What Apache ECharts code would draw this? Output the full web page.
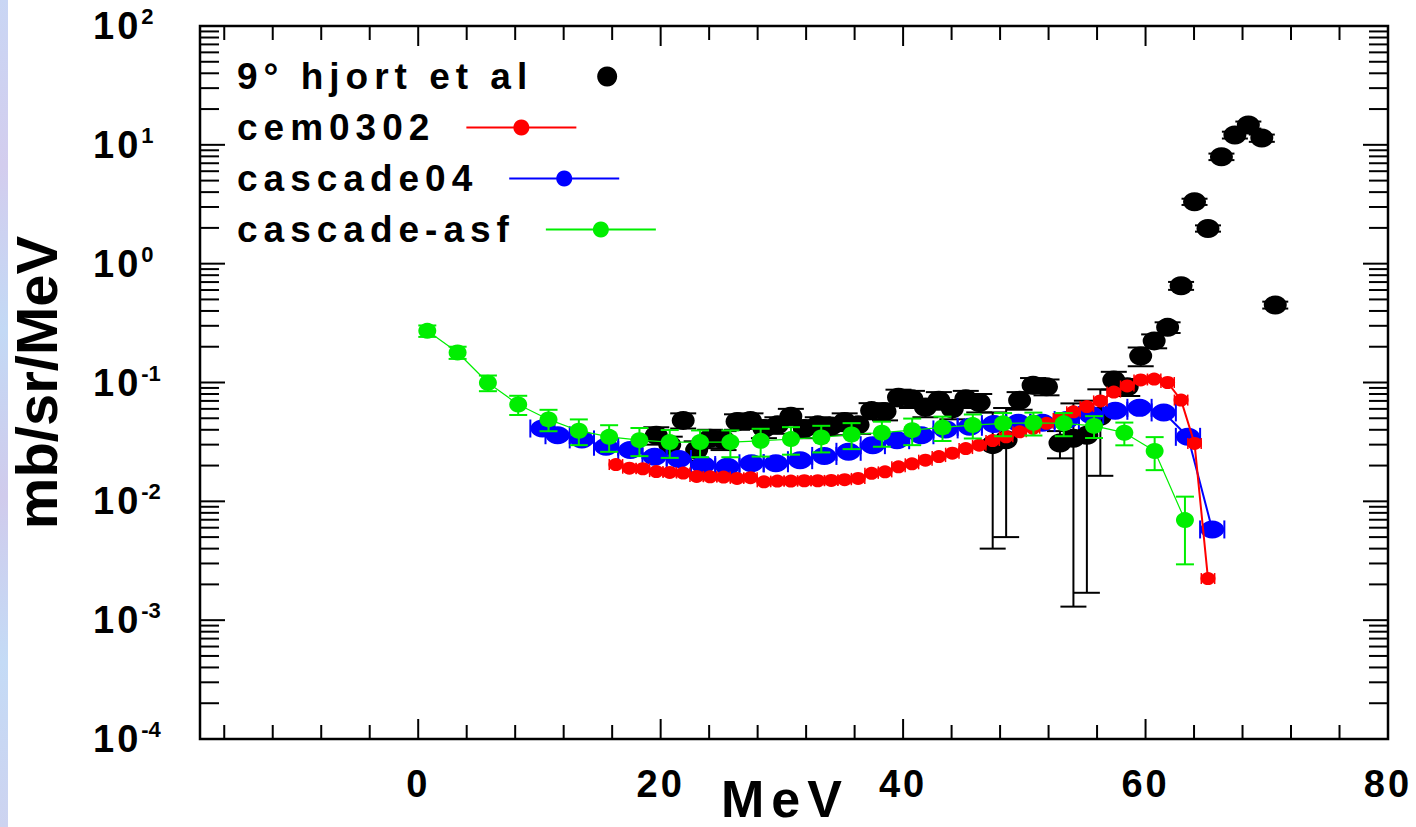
<!DOCTYPE html>
<html>
<head>
<meta charset="utf-8">
<script src="https://cdn.jsdelivr.net/npm/echarts@6/dist/echarts.min.js"></script>
<style>
html,body{margin:0;padding:0;background:#fff;}
#chart{width:1416px;height:827px;}
#chart text[style*="37px"]{letter-spacing:6px;}
#chart text[style*="38px"]{letter-spacing:3px;}
#chart text[style*="52px"]{letter-spacing:7px;}
</style>
</head>
<body>
<div id="chart"></div>
<script>
// ---------------- data ----------------
const seriesNames = ['9° hjort et al', 'cem0302', 'cascade04', 'cascade-asf'];

// 9° hjort et al (experimental)
const hjortE = [19.64,20.75,21.86,22.97,24.08,25.19,26.30,27.41,28.52,29.63,30.74,31.85,32.96,34.07,35.18,36.29,37.40,38.51,39.62,40.73,41.84,42.95,44.06,45.17,46.28,47.39,48.50,49.61,50.72,51.83,52.94,54.05,55.16,56.27,57.38,58.49,59.60,60.71,61.82,62.93,64.04,65.15,66.26,67.37,68.48,69.59,70.70];
const hjortVal = [0.036,0.030,0.048,0.027,0.034,0.033,0.047,0.048,0.041,0.044,0.052,0.041,0.044,0.043,0.047,0.044,0.058,0.057,0.075,0.073,0.062,0.071,0.060,0.073,0.068,0.030,0.033,0.071,0.095,0.092,0.031,0.034,0.036,0.052,0.105,0.092,0.167,0.224,0.291,0.652,3.32,1.98,7.94,12.1,14.7,11.4,0.449];
const hjortErr = [0.006,0.005,0.007,0.005,0.006,0.006,0.007,0.007,0.007,0.007,0.008,0.007,0.007,0.007,0.008,0.007,0.009,0.009,0.012,0.012,0.011,0.012,0.011,0.012,0.012,0.026,0.028,0.012,0.014,0.014,0.008,0.0327,0.0343,0.0356,0.018,0.015,0.03,0.03,0.03,0.05,0.2,0.12,0.5,0.8,1.0,0.8,0.03];
const hjortHalfBin = 0.55;

// cem0302
const cemE = [16.31,17.42,18.53,19.64,20.75,21.86,22.97,24.08,25.19,26.30,27.41,28.52,29.63,30.74,31.85,32.96,34.07,35.18,36.29,37.40,38.51,39.62,40.73,41.84,42.95,44.06,45.17,46.28,47.39,48.50,49.61,50.72,51.83,52.94,54.05,55.16,56.27,57.38,58.49,59.60,60.71,61.82,62.93,64.04,65.15];
const cemVal = [0.0204,0.0190,0.0188,0.0178,0.0175,0.0173,0.0162,0.0161,0.0160,0.0156,0.0158,0.0146,0.0148,0.0148,0.0149,0.0149,0.0150,0.0152,0.0156,0.0172,0.0177,0.0195,0.0207,0.0222,0.0238,0.0254,0.0278,0.0297,0.0325,0.0349,0.0385,0.0412,0.0453,0.0498,0.0566,0.0627,0.0700,0.0830,0.0935,0.105,0.107,0.100,0.0711,0.0307,0.00224];
const cemHalfBin = 0.55;

// cascade04
const casE = [10.25,11.5,13.5,15.5,17.5,19.5,21.5,23.5,25.5,27.5,29.5,31.5,33.5,35.5,37.5,39.5,41.5,43.5,45.5,47.5,49.5,51.5,53.5,55.5,57.5,59.5,61.5,63.5,65.5];
const casVal = [0.041,0.036,0.0332,0.0288,0.027,0.0237,0.0227,0.0202,0.0195,0.0209,0.0209,0.0222,0.0241,0.0261,0.0297,0.0327,0.036,0.0403,0.0424,0.0447,0.0458,0.0458,0.0483,0.0532,0.0578,0.0612,0.056,0.0349,0.0058];
const casErr = [0.0033,0.0029,0.0027,0.0023,0.0022,0.0019,0.0018,0.0016,0.0016,0.0017,0.0017,0.0018,0.0019,0.0021,0.0024,0.0026,0.0029,0.0032,0.0034,0.0036,0.0037,0.0037,0.0039,0.0043,0.0046,0.0049,0.0045,0.0028,0.0005];
const casHalfBin = 1.0;

// cascade-asf
const asfE = [0.75,3.25,5.75,8.25,10.75,13.25,15.75,18.25,20.75,23.25,25.75,28.25,30.75,33.25,35.75,38.25,40.75,43.25,45.75,48.25,50.75,53.25,55.75,58.25,60.75,63.25];
const asfVal = [0.272,0.179,0.0995,0.0653,0.0489,0.0393,0.0349,0.0327,0.0315,0.0315,0.0315,0.0323,0.0334,0.0345,0.0365,0.0378,0.0397,0.0419,0.0438,0.0453,0.0458,0.0453,0.0431,0.0378,0.0265,0.00695];
const asfErr = [0.030,0.021,0.015,0.012,0.010,0.0096,0.0088,0.0087,0.0083,0.008,0.008,0.0085,0.0087,0.0087,0.009,0.009,0.010,0.0097,0.010,0.010,0.010,0.010,0.009,0.0082,0.0082,0.004];

// axes
const xMin = -18, xMax = 80;
const yMin = 1e-4, yMax = 1e2;
const xMajorTicks = [0,20,40,60,80];
const xMinorTicks = [-16,-12,-8,-4,4,8,12,16,24,28,32,36,44,48,52,56,64,68,72,76];
const xTickLabels = ['0','20','40','60','80'];
const yMajorTicks = [1e-4,1e-3,1e-2,1e-1,1,10,100];
const yTickExps = ['-4','-3','-2','-1','0','1','2'];
const yMinorTicks = [2e-4,3e-4,4e-4,5e-4,6e-4,7e-4,8e-4,9e-4,
  2e-3,3e-3,4e-3,5e-3,6e-3,7e-3,8e-3,9e-3,
  2e-2,3e-2,4e-2,5e-2,6e-2,7e-2,8e-2,9e-2,
  0.2,0.3,0.4,0.5,0.6,0.7,0.8,0.9,
  2,3,4,5,6,7,8,9,
  20,30,40,50,60,70,80,90];

// ---------------- text measurement incl. letter spacing ----------------
const LS = {'37': 6, '38': 3, '52': 7};
const mctx = document.createElement('canvas').getContext('2d');
if (echarts.setPlatformAPI) {
  echarts.setPlatformAPI({
    measureText: function (text, font) {
      mctx.font = font || '12px sans-serif';
      const w = mctx.measureText(text).width;
      const m = /(\d+)px/.exec(font || '');
      const ls = m ? (LS[m[1]] || 0) : 0;
      return { width: w + ls * String(text).length };
    }
  });
}

const F = "'Liberation Sans', Arial, Helvetica, sans-serif";

function errRender(color, capW, capH, lw) {
  return function (params, api) {
    const x = api.value(0);
    const yl = api.value(2), yh = api.value(3);
    const xl = api.value(4), xh = api.value(5);
    const y = api.value(1);
    const st = { stroke: color, lineWidth: lw };
    const ch = [];
    if (yh > yl) {
      const a = api.coord([x, yl]), b = api.coord([x, yh]);
      ch.push({ type: 'line', shape: { x1: a[0], y1: a[1], x2: b[0], y2: b[1] }, style: st });
      ch.push({ type: 'line', shape: { x1: a[0] - capW / 2, y1: a[1], x2: a[0] + capW / 2, y2: a[1] }, style: st });
      ch.push({ type: 'line', shape: { x1: b[0] - capW / 2, y1: b[1], x2: b[0] + capW / 2, y2: b[1] }, style: st });
    }
    if (xh > xl) {
      const a = api.coord([xl, y]), b = api.coord([xh, y]);
      ch.push({ type: 'line', shape: { x1: a[0], y1: a[1], x2: b[0], y2: b[1] }, style: st });
      ch.push({ type: 'line', shape: { x1: a[0], y1: a[1] - capH / 2, x2: a[0], y2: a[1] + capH / 2 }, style: st });
      ch.push({ type: 'line', shape: { x1: b[0], y1: b[1] - capH / 2, x2: b[0], y2: b[1] + capH / 2 }, style: st });
    }
    return { type: 'group', children: ch };
  };
}

function xTickRender(len) {
  return function (params, api) {
    const v = api.value(0);
    const b = api.coord([v, yMin]), t = api.coord([v, yMax]);
    const st = { stroke: '#000', lineWidth: 2 };
    return { type: 'group', children: [
      { type: 'line', shape: { x1: b[0], y1: b[1], x2: b[0], y2: b[1] - len }, style: st },
      { type: 'line', shape: { x1: t[0], y1: t[1], x2: t[0], y2: t[1] + len }, style: st }
    ] };
  };
}
function yTickRender(len) {
  return function (params, api) {
    const v = api.value(1);
    const l = api.coord([xMin, v]), r = api.coord([xMax, v]);
    const st = { stroke: '#000', lineWidth: 2 };
    return { type: 'group', children: [
      { type: 'line', shape: { x1: l[0], y1: l[1], x2: l[0] + len, y2: l[1] }, style: st },
      { type: 'line', shape: { x1: r[0], y1: r[1], x2: r[0] - len, y2: r[1] }, style: st }
    ] };
  };
}

const chart = echarts.init(document.getElementById('chart'), null, { renderer: 'svg', width: 1416, height: 827 });

const legendTops = [55, 106, 157, 208];
const legends = seriesNames.map(function (n, i) {
  return {
    data: [n], left: 237, top: legendTops[i], padding: 0, orient: 'horizontal', align: 'right',
    itemWidth: 110, itemHeight: 20, selectedMode: false,
    textStyle: { fontFamily: F, fontWeight: 'bold', fontSize: 37, color: '#000', padding: [0, i === 0 ? 14 : 26, 0, 0] }
  };
});

const option = {
  animation: false,
  backgroundColor: '#fff',
  graphic: [{
    type: 'rect', left: 0, top: 0, silent: true,
    shape: { width: 8, height: 827 },
    style: { fill: { type: 'linear', x: 0, y: 0, x2: 0, y2: 1, colorStops: [
      { offset: 0, color: '#c9d6f4' }, { offset: 0.2, color: '#d3cdee' }, { offset: 0.4, color: '#c3d9f5' },
      { offset: 0.6, color: '#d0cbec' }, { offset: 0.8, color: '#c4dbf6' }, { offset: 1, color: '#cdd3f0' }] } }
  }],
  grid: { left: 200, right: 28, top: 26, bottom: 88, show: true, borderColor: '#000', borderWidth: 2.5,
    backgroundColor: 'transparent', containLabel: false, outerBoundsMode: 'none' },
  legend: legends,
  xAxis: {
    type: 'value', min: xMin, max: xMax, interval: 2,
    axisLine: { show: false }, axisTick: { show: false }, splitLine: { show: false },
    axisLabel: {
      margin: 24, fontFamily: F, fontWeight: 'bold', fontSize: 38, color: '#000',
      formatter: function (v) {
        const i = xMajorTicks.indexOf(Math.round(v));
        return (i >= 0 && Math.abs(v - Math.round(v)) < 1e-6) ? xTickLabels[i] : '';
      }
    },
    name: 'MeV', nameLocation: 'middle', nameGap: 30, nameMoveOverlap: false,
    nameTextStyle: { fontFamily: F, fontWeight: 'bold', fontSize: 52, color: '#000', padding: [0, 18, 0, 0] }
  },
  yAxis: {
    type: 'log', logBase: 10, min: yMin, max: yMax, splitNumber: 6,
    axisLine: { show: false }, axisTick: { show: false }, splitLine: { show: false }, minorTick: { show: false },
    axisLabel: {
      margin: 107, align: 'left',
      formatter: function (v) {
        const lv = Math.log10(v);
        let idx = -1;
        for (let i = 0; i < yMajorTicks.length; i++) {
          if (Math.abs(Math.log10(yMajorTicks[i]) - lv) < 1e-6) idx = i;
        }
        return idx >= 0 ? '{b|10}{s|' + yTickExps[idx] + '}' : '';
      },
      rich: {
        b: { fontFamily: F, fontWeight: 'bold', fontSize: 38, color: '#000' },
        s: { fontFamily: F, fontWeight: 'bold', fontSize: 22, color: '#000', verticalAlign: 'top' }
      }
    },
    name: 'mb/sr/MeV', nameLocation: 'middle', nameGap: 135, nameMoveOverlap: false,
    nameTextStyle: { fontFamily: F, fontWeight: 'bold', fontSize: 58, color: '#000' }
  },
  series: [
    { type: 'custom', name: 'hjortErr', silent: true, z: 2, renderItem: errRender('#000', 26, 12, 2),
      data: hjortE.map(function (x, i) { return [x, hjortVal[i], hjortVal[i] - hjortErr[i], hjortVal[i] + hjortErr[i], x - hjortHalfBin, x + hjortHalfBin]; }) },
    { type: 'scatter', name: seriesNames[0], z: 3, symbol: 'circle', symbolSize: [23, 19],
      itemStyle: { color: '#000', opacity: 1 }, data: hjortE.map(function (x, i) { return [x, hjortVal[i]]; }) },

    { type: 'custom', name: 'casErr', silent: true, z: 4, renderItem: errRender('#0000ff', 18, 18, 2),
      data: casE.map(function (x, i) { return [x, casVal[i], casVal[i] - casErr[i], casVal[i] + casErr[i], x - casHalfBin, x + casHalfBin]; }) },
    { type: 'line', name: seriesNames[2], z: 5, symbol: 'circle', symbolSize: [24, 18],
      itemStyle: { color: '#0000ff', opacity: 1 }, lineStyle: { color: '#0000ff', width: 2 },
      data: casE.map(function (x, i) { return [x, casVal[i]]; }) },

    { type: 'custom', name: 'cemErr', silent: true, z: 6, renderItem: errRender('#ff0000', 10, 11, 1.5),
      data: cemE.map(function (x, i) { return [x, cemVal[i], cemVal[i], cemVal[i], x - cemHalfBin, x + cemHalfBin]; }) },
    { type: 'line', name: seriesNames[1], z: 7, symbol: 'circle', symbolSize: [15, 13],
      itemStyle: { color: '#ff0000', opacity: 1 }, lineStyle: { color: '#ff0000', width: 2 },
      data: cemE.map(function (x, i) { return [x, cemVal[i]]; }) },

    { type: 'custom', name: 'asfErr', silent: true, z: 8, renderItem: errRender('#00ee00', 18, 0, 2),
      data: asfE.map(function (x, i) { return [x, asfVal[i], asfVal[i] - asfErr[i], asfVal[i] + asfErr[i], x, x]; }) },
    { type: 'line', name: seriesNames[3], z: 9, symbol: 'circle', symbolSize: [18, 16],
      itemStyle: { color: '#00ee00', opacity: 1 }, lineStyle: { color: '#00ee00', width: 1.2 },
      data: asfE.map(function (x, i) { return [x, asfVal[i]]; }) },

    { type: 'custom', name: 'xMajor', silent: true, z: 20, clip: false, renderItem: xTickRender(20),
      data: xMajorTicks.map(function (v) { return [v, 1]; }) },
    { type: 'custom', name: 'xMinor', silent: true, z: 20, clip: false, renderItem: xTickRender(14),
      data: xMinorTicks.map(function (v) { return [v, 1]; }) },
    { type: 'custom', name: 'yMajor', silent: true, z: 20, clip: false, renderItem: yTickRender(25),
      data: yMajorTicks.map(function (v) { return [0, v]; }) },
    { type: 'custom', name: 'yMinor', silent: true, z: 20, clip: false, renderItem: yTickRender(19),
      data: yMinorTicks.map(function (v) { return [0, v]; }) }
  ]
};
chart.setOption(option);
</script>
</body>
</html>
